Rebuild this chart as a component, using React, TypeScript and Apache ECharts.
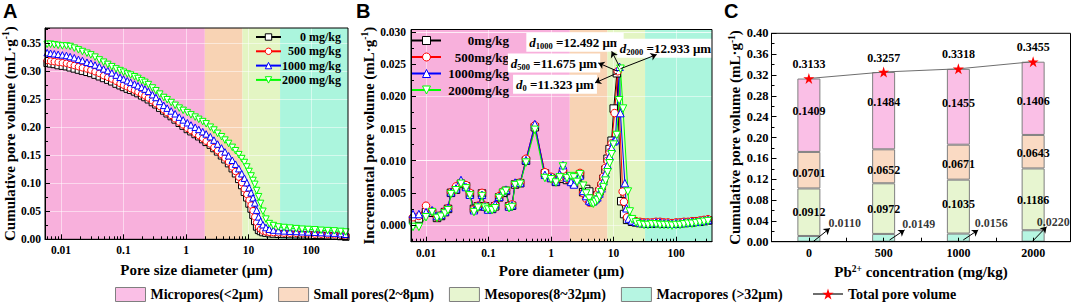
import React, { useEffect, useRef } from 'react';
import * as echarts from 'echarts';

const SERIF = '"Liberation Serif", "Times New Roman", serif';
const SANS = '"Liberation Sans", Arial, sans-serif';

// ---------- shared ----------
const concLabels = ['0', '500', '1000', '2000'];
const aNames = concLabels.map((c) => `${c} mg/kg`);
const bNames = concLabels.map((c) => `${c}mg/kg`);
const lineColors = ['#000000', '#FF0000', '#0000FF', '#00FF00'];
const lineSymbols = ['rect', 'circle', 'triangle', 'triangle'];
const lineSymbolRotate = [0, 0, 0, 180];
const poreClasses = ['Micropores(<2μm)', 'Small pores(2~8μm)', 'Mesopores(8~32μm)', 'Macropores (>32μm)'];
const totalName = 'Total pore volume';
const classBounds = [2, 8, 32]; // μm
const bandColors = ['#F8B0DC', '#F8D3B4', '#E3F5C3', '#ABF5DD'];
const barColors = ['#FABFE6', '#FADAC3', '#E7F5D0', '#B6F5E2'];
const decadeValues = [0.01, 0.1, 1, 10, 100];
const decadeLabels = ['0.01', '0.1', '1', '10', '100'];

// ---------- panel A: cumulative pore volume ----------
const aDiameter = [
  0.006, 0.0068, 0.0078, 0.009, 0.0105, 0.0122, 0.014, 0.0163, 0.019, 0.022,
  0.026, 0.03, 0.035, 0.041, 0.048, 0.056, 0.065, 0.076, 0.088, 0.1,
  0.115, 0.13, 0.15, 0.17, 0.195, 0.22, 0.25, 0.29, 0.33, 0.38,
  0.44, 0.5, 0.58, 0.67, 0.78, 0.9, 1.05, 1.2, 1.4, 1.6,
  1.85, 2.1, 2.45, 2.8, 3.2, 3.7, 4.2, 4.8, 5.5, 6.2,
  7.0, 7.8, 8.6, 9.4, 10.2, 11.0, 11.8, 12.6, 13.5, 14.5,
  15.6, 17, 19, 21.5, 25, 30, 37, 46, 58, 72,
  90, 115, 145, 185, 235, 300, 360,
];
const aVol0 = [
  0.314, 0.313, 0.312, 0.310, 0.309, 0.308, 0.306, 0.304, 0.302, 0.300,
  0.298, 0.296, 0.293, 0.290, 0.287, 0.284, 0.281, 0.277, 0.274, 0.271,
  0.268, 0.266, 0.263, 0.260, 0.256, 0.253, 0.249, 0.244, 0.240, 0.234,
  0.229, 0.224, 0.219, 0.213, 0.207, 0.202, 0.196, 0.192, 0.187, 0.183,
  0.178, 0.173, 0.168, 0.162, 0.156, 0.149, 0.142, 0.135, 0.126, 0.117,
  0.107, 0.096, 0.084, 0.074, 0.063, 0.054, 0.043, 0.032, 0.022, 0.016,
  0.014, 0.012, 0.011, 0.010, 0.0095, 0.009, 0.0088, 0.0085, 0.0082, 0.008,
  0.0077, 0.0073, 0.007, 0.0065, 0.006, 0.005, 0.004,
];
const aVol500 = [
  0.319, 0.318, 0.317, 0.316, 0.315, 0.314, 0.312, 0.310, 0.308, 0.306,
  0.304, 0.302, 0.299, 0.296, 0.292, 0.289, 0.286, 0.282, 0.278, 0.275,
  0.272, 0.269, 0.266, 0.263, 0.259, 0.256, 0.252, 0.247, 0.242, 0.237,
  0.231, 0.226, 0.221, 0.215, 0.209, 0.204, 0.198, 0.194, 0.189, 0.185,
  0.180, 0.175, 0.170, 0.164, 0.158, 0.151, 0.145, 0.138, 0.129, 0.121,
  0.111, 0.101, 0.090, 0.080, 0.070, 0.061, 0.051, 0.040, 0.030, 0.022,
  0.018, 0.015, 0.0135, 0.0125, 0.012, 0.0115, 0.011, 0.0108, 0.0105, 0.010,
  0.0097, 0.0093, 0.009, 0.0085, 0.008, 0.007, 0.006,
];
const aVol1000 = [
  0.333, 0.332, 0.331, 0.330, 0.329, 0.328, 0.326, 0.324, 0.321, 0.319,
  0.316, 0.314, 0.311, 0.308, 0.304, 0.301, 0.297, 0.293, 0.289, 0.286,
  0.283, 0.280, 0.277, 0.274, 0.271, 0.268, 0.264, 0.258, 0.253, 0.246,
  0.239, 0.234, 0.229, 0.224, 0.218, 0.213, 0.208, 0.204, 0.200, 0.196,
  0.192, 0.188, 0.183, 0.177, 0.170, 0.163, 0.156, 0.149, 0.141, 0.134,
  0.126, 0.117, 0.109, 0.101, 0.092, 0.083, 0.074, 0.065, 0.052, 0.040,
  0.032, 0.026, 0.021, 0.018, 0.0165, 0.0155, 0.015, 0.0145, 0.014, 0.0135,
  0.013, 0.0125, 0.012, 0.0115, 0.011, 0.010, 0.009,
];
const aVol2000 = [
  0.348, 0.348, 0.347, 0.346, 0.345, 0.345, 0.344, 0.341, 0.338, 0.335,
  0.332, 0.329, 0.325, 0.320, 0.316, 0.312, 0.308, 0.304, 0.301, 0.298,
  0.295, 0.293, 0.290, 0.287, 0.283, 0.280, 0.276, 0.270, 0.265, 0.259,
  0.253, 0.249, 0.244, 0.239, 0.234, 0.230, 0.226, 0.222, 0.218, 0.214,
  0.210, 0.206, 0.200, 0.195, 0.189, 0.183, 0.177, 0.171, 0.164, 0.158,
  0.151, 0.144, 0.137, 0.129, 0.121, 0.113, 0.105, 0.098, 0.087, 0.076,
  0.064, 0.050, 0.036, 0.028, 0.0245, 0.022, 0.021, 0.020, 0.019, 0.018,
  0.0175, 0.017, 0.016, 0.0155, 0.015, 0.014, 0.013,
];
const aYTicks = [0, 0.05, 0.1, 0.15, 0.2, 0.25, 0.3, 0.35];

// ---------- panel B: incremental pore volume ----------
const bDiameter = [
  0.0062, 0.0077, 0.01, 0.0125, 0.015, 0.0174, 0.0201, 0.0225, 0.0251, 0.0302,
  0.0363, 0.0437, 0.0504, 0.0585, 0.0678, 0.0787, 0.0881, 0.0986, 0.1142, 0.1278,
  0.1479, 0.1712, 0.1905, 0.2133, 0.238, 0.2661, 0.321, 0.3981, 0.5517, 0.7998,
  1.0, 1.199, 1.38, 1.555, 1.8, 2.09, 2.33, 2.61, 2.91, 3.27,
  3.65, 4.09, 4.41, 4.75, 5.13, 5.52, 5.95, 6.43, 6.92, 7.46,
  8.04, 8.67, 9.33,
];
const bInc0 = [
  0.0008, 0.0010, 0.0020, 0.0019, 0.0011, 0.0014, 0.0020, 0.0025, 0.0050, 0.0055,
  0.0064, 0.0060, 0.0048, 0.0025, 0.0029, 0.0049, 0.0029, 0.0025, 0.0025, 0.0029,
  0.0043, 0.0050, 0.0053, 0.0029, 0.0030, 0.0063, 0.0065, 0.0100, 0.0152, 0.0080,
  0.0073, 0.0067, 0.0072, 0.0080, 0.0070, 0.0069, 0.0064, 0.0073, 0.0078, 0.0051,
  0.0056, 0.0052, 0.0041, 0.0038, 0.0041, 0.0046, 0.0052, 0.0060, 0.0072, 0.0086,
  0.0103, 0.0118, 0.0131,
];
const bInc500 = [
  0.0012, 0.0014, 0.0030, 0.0021, 0.0012, 0.0015, 0.0021, 0.0026, 0.0051, 0.0060,
  0.0066, 0.0062, 0.0050, 0.0024, 0.0030, 0.0050, 0.0030, 0.0026, 0.0026, 0.0031,
  0.0045, 0.0052, 0.0054, 0.0030, 0.0032, 0.0064, 0.0066, 0.0103, 0.0155, 0.0082,
  0.0075, 0.0069, 0.0074, 0.0086, 0.0072, 0.0071, 0.0066, 0.0076, 0.0081, 0.0050,
  0.0041, 0.0035, 0.0035, 0.0038, 0.0042, 0.0048, 0.0055, 0.0064, 0.0075, 0.0089,
  0.0100, 0.0113, 0.0127,
];
const bInc1000 = [
  0.0017, 0.0017, 0.0020, 0.0023, 0.0014, 0.0016, 0.0021, 0.0027, 0.0051, 0.0057,
  0.0070, 0.0059, 0.0047, 0.0023, 0.0030, 0.0047, 0.0029, 0.0024, 0.0026, 0.0032,
  0.0044, 0.0053, 0.0055, 0.0029, 0.0031, 0.0066, 0.0066, 0.0101, 0.0157, 0.0078,
  0.0074, 0.0068, 0.0079, 0.0093, 0.0074, 0.0067, 0.0063, 0.0071, 0.0077, 0.0053,
  0.0045, 0.0038, 0.0036, 0.0037, 0.0040, 0.0043, 0.0049, 0.0057, 0.0068, 0.0080,
  0.0093, 0.0107, 0.0120,
];
const bInc2000 = [
  -0.0003, -0.0003, 0.0012, 0.0020, 0.0011, 0.0013, 0.0018, 0.0023, 0.0048, 0.0054,
  0.0064, 0.0057, 0.0046, 0.0020, 0.0027, 0.0045, 0.0027, 0.0024, 0.0023, 0.0026,
  0.0042, 0.0050, 0.0053, 0.0026, 0.0028, 0.0062, 0.0064, 0.0097, 0.0148, 0.0073,
  0.0071, 0.0066, 0.0074, 0.0091, 0.0073, 0.0076, 0.0074, 0.0067, 0.0079, 0.0061,
  0.0049, 0.0041, 0.0034, 0.0033, 0.0036, 0.0039, 0.0044, 0.0051, 0.0059, 0.0069,
  0.0082, 0.0096, 0.0110,
];
// peak region, [diameter μm, volume]
const bPeak0 = [[10.07, 0.0181], [11.323, 0.0236], [13.3, 0.0037], [14.8, 0.0017], [16.5, 0.0008]];
const bPeak500 = [[10.4, 0.0174], [11.675, 0.0239], [14.0, 0.0052], [14.7, 0.0036], [16.5, 0.0012]];
const bPeak1000 = [[10.0, 0.0130], [10.7, 0.0132], [12.492, 0.0246], [12.9, 0.0174], [15.2, 0.0065], [16.1, 0.0026], [17.5, 0.0010]];
const bPeak2000 = [[10.0, 0.0125], [11.3, 0.0140], [12.3, 0.0194], [12.933, 0.0243], [14.2, 0.0181], [17.0, 0.0052], [18.2, 0.0021]];
const bTailDiameter = [19.8, 22.9, 26.5, 30.8, 35.6, 41.3, 47.9, 55.5, 64.3, 74.5, 86.3, 100, 116, 134, 156, 180, 209, 242, 281, 325];
const bTail0 = [0.0005, 0.0004, 0.0003, 0.0003, 0.0002, 0.0002, 0.0003, 0.0003, 0.0002, 0.0002, 0.0002, 0.0002, 0.0003, 0.0003, 0.0004, 0.0004, 0.0005, 0.0005, 0.0006, 0.0007];
const bTail500 = [0.0008, 0.0006, 0.0005, 0.0004, 0.0004, 0.0004, 0.0005, 0.0005, 0.0004, 0.0004, 0.0003, 0.0004, 0.0004, 0.0005, 0.0005, 0.0006, 0.0006, 0.0007, 0.0008, 0.0009];
const bTail1000 = [0.0007, 0.0005, 0.0004, 0.0003, 0.0003, 0.0003, 0.0004, 0.0004, 0.0003, 0.0003, 0.0002, 0.0003, 0.0003, 0.0004, 0.0004, 0.0005, 0.0005, 0.0006, 0.0007, 0.0008];
const bTail2000 = [0.0009, 0.0004, 0.0001, 0.0000, 0.0000, 0.0001, 0.0001, 0.0000, 0.0000, 0.0000, -0.0001, 0.0000, 0.0000, 0.0001, 0.0002, 0.0002, 0.0003, 0.0004, 0.0005, 0.0006];
const peakDiam = [11.323, 11.675, 12.492, 12.933];
const peakVol = [0.0236, 0.0239, 0.0246, 0.0243];
const bYTicks = [0, 0.005, 0.01, 0.015, 0.02, 0.025, 0.03];
const bYMinor = [-0.0025, 0.0025, 0.0075, 0.0125, 0.0175, 0.0225, 0.0275];

// ---------- panel C: stacked pore volumes ----------
const macroVol = [0.0110, 0.0149, 0.0156, 0.0220];
const mesoVol = [0.0912, 0.0972, 0.1035, 0.1186];
const smallVol = [0.0701, 0.0652, 0.0671, 0.0643];
const microVol = [0.1409, 0.1484, 0.1455, 0.1406];
const totalVol = [0.3133, 0.3257, 0.3318, 0.3455];

// ---------- layout (annotations / styles) ----------
const GA = { left: 45, top: 28, width: 303, height: 211.3 };
const GB = { left: 411, top: 29.5, width: 301, height: 212.2 };
const GC = { left: 771.5, top: 33.3, width: 299, height: 208.4 };
const A_X = [-2.256, 2.592];
const B_X = [-2.24, 2.576];
const A_Y = [0, 0.377];
const B_Y = [-0.0026, 0.0304];
const peakLabelAt = [[0.064, 0.0219], [0.048, 0.0252], [0.384, 0.0284], [1.832, 0.0275]];
const peakArrowEnd = [[0.704, 0.0221], [0.757, 0.0252], [0.971, 0.0270], [1.691, 0.0265]];
const macroLabelDx = [0.48, 0.47, 0.44, 0.27];
const macroLabelY = [0.036, 0.034, 0.0365, 0.0384];
const macroArrows = [[0.06, 0.0005, 0.28, 0.0257], [0.08, 0.0033, 0.28, 0.0225], [0.065, 0.0033, 0.265, 0.0225], [-0.01, 0.0005, 0.18, 0.0288]];
const microShift = [-4, -9, -4, 3];
const smallShift = [3, 4, 2, 1];
const mesoShift = [0, 0, -3, 1];

const STAR = 'path://M50,0 L61.2,34.5 L97.6,34.5 L68.2,55.9 L79.4,90.5 L50,69.1 L20.6,90.5 L31.8,55.9 L2.4,34.5 L38.8,34.5 Z';

const lg = (d: number) => Math.log10(d);

const font = (size: number) => ({ fontFamily: SERIF, fontWeight: 'bold' as const, fontSize: size, color: '#000' });

const nameRich = {
  a: { ...font(15), lineHeight: 17 },
  s: { ...font(9.5), lineHeight: 9, verticalAlign: 'top' as const },
};

const minorLogs = (range: number[]) => {
  const out: number[] = [];
  for (let e = -3; e <= 2; e++) {
    for (let k = 2; k <= 9; k++) {
      const v = e + Math.log10(k);
      if (v > range[0] && v < range[1]) out.push(v);
    }
  }
  return out;
};

const decadeLogs = decadeValues.map(lg);

function logXAxes(grid: number, range: number[], name: string, nameGap: number) {
  return [
    {
      gridIndex: grid, type: 'value', min: range[0], max: range[1], position: 'bottom', z: 10,
      axisLine: { show: true, onZero: false, lineStyle: { color: '#000', width: 1 } },
      axisTick: { show: true, inside: true, length: 5, customValues: decadeLogs, lineStyle: { color: '#000' } },
      axisLabel: {
        customValues: decadeLogs, margin: 5, ...font(11.5),
        formatter: (v: number) => decadeLabels[decadeLogs.findIndex((d) => Math.abs(d - v) < 1e-6)] ?? '',
      },
      splitLine: { show: false },
      name, nameLocation: 'middle', nameGap, nameTextStyle: { ...font(15) },
    },
    {
      gridIndex: grid, type: 'value', min: range[0], max: range[1], position: 'bottom', z: 10,
      axisLine: { show: false, onZero: false },
      axisTick: { show: true, inside: true, length: 3, customValues: minorLogs(range), lineStyle: { color: '#000' } },
      axisLabel: { show: false },
      splitLine: { show: false },
    },
  ];
}

function bands(range: number[]) {
  const edges = [range[0], ...classBounds.map(lg), range[1]];
  return {
    silent: true,
    z: 1,
    data: bandColors.map((c, k) => [
      { xAxis: edges[k], itemStyle: { color: c, opacity: 1, borderWidth: 0 } },
      { xAxis: edges[k + 1] },
    ]),
  };
}

function gridLines(yTicks: number[]) {
  return {
    silent: true,
    z: 1.5,
    symbol: ['none', 'none'],
    label: { show: false },
    lineStyle: { color: 'rgba(255,255,255,0.5)', width: 1, type: 'solid' },
    emphasis: { disabled: true },
    data: [...decadeLogs.map((v) => ({ xAxis: v })), ...yTicks.map((v) => ({ yAxis: v }))],
  };
}

function lineSeries(i: number, name: string, data: number[][], xi: number, yi: number, size: number) {
  return {
    type: 'line', name, xAxisIndex: xi, yAxisIndex: yi, data,
    symbol: lineSymbols[i], symbolRotate: lineSymbolRotate[i], symbolSize: size, showAllSymbol: true,
    lineStyle: { color: lineColors[i], width: 1 },
    itemStyle: { color: '#fff', borderColor: lineColors[i], borderWidth: 1 },
    emphasis: { disabled: true },
    z: 2,
  };
}

function buildOption() {
  const aVols = [aVol0, aVol500, aVol1000, aVol2000];
  const bIncs = [bInc0, bInc500, bInc1000, bInc2000];
  const bPeaks = [bPeak0, bPeak500, bPeak1000, bPeak2000];
  const bTails = [bTail0, bTail500, bTail1000, bTail2000];

  const aSeries = aVols.map((vols, i) => {
    const s: any = lineSeries(i, aNames[i], aDiameter.map((d, j) => [lg(d), vols[j]]), 0, 0, 6.5);
    if (i === 0) { s.markArea = bands(A_X); s.markLine = gridLines(aYTicks); }
    return s;
  });

  const bSeries = bIncs.map((inc, i) => {
    const data = [
      ...bDiameter.map((d, j) => [lg(d), inc[j]]),
      ...bPeaks[i].map(([d, v]) => [lg(d), v]),
      ...bTailDiameter.map((d, j) => [lg(d), bTails[i][j]]),
    ];
    const s: any = lineSeries(i, bNames[i], data, 2, 1, 7.5);
    if (i === 0) { s.markArea = bands(B_X); s.markLine = gridLines(bYTicks); }
    if (i === 3) {
      s.markPoint = {
        silent: true,
        symbol: 'rect', symbolSize: 1, itemStyle: { color: 'rgba(0,0,0,0)' },
        label: {
          show: true, position: 'inside', backgroundColor: '#fff', padding: [2, 3, 1, 3],
          formatter: (p: any) => `{i|d}{s|${concLabels[p.dataIndex]}}{b| =${peakDiam[p.dataIndex].toFixed(3)} μm}`,
          rich: {
            i: { ...font(13), fontStyle: 'italic', lineHeight: 16 },
            s: { ...font(8.5), lineHeight: 9, verticalAlign: 'bottom' },
            b: { ...font(13), lineHeight: 16 },
          },
        },
        data: peakLabelAt.map((c, k) => ({ name: concLabels[k], coord: c, value: peakDiam[k] })),
        z: 6,
      };
      s.markLine = {
        silent: true, symbol: ['none', 'arrow'], symbolSize: 6,
        label: { show: false }, emphasis: { disabled: true },
        lineStyle: { color: '#000', width: 1, type: 'solid' },
        data: peakDiam.map((d, k) => [{ coord: [lg(d), peakVol[k]] }, { coord: peakArrowEnd[k] }]),
        z: 7,
      };
    }
    return s;
  });

  const barBase = {
    type: 'bar', stack: 'pv', xAxisIndex: 4, yAxisIndex: 3, barWidth: 23,
    emphasis: { disabled: true },
  };
  const segLabel = { show: true, position: 'inside', ...font(12), formatter: (p: any) => Number(p.value).toFixed(4) };
  const withShift = (vals: number[], shift: number[]) => vals.map((v, i) => ({ value: v, label: { offset: [0, shift[i]] } }));
  const barStyle = (c: string) => ({ color: c, borderColor: '#7f7f7f', borderWidth: 1 });

  const cSeries: any[] = [
    { ...barBase, name: poreClasses[3], data: macroVol, itemStyle: barStyle(barColors[3]) },
    { ...barBase, name: poreClasses[2], data: withShift(mesoVol, mesoShift), label: segLabel, itemStyle: barStyle(barColors[2]) },
    { ...barBase, name: poreClasses[1], data: withShift(smallVol, smallShift), label: segLabel, itemStyle: barStyle(barColors[1]) },
    { ...barBase, name: poreClasses[0], data: withShift(microVol, microShift), label: segLabel, itemStyle: barStyle(barColors[0]) },
    {
      type: 'line', name: totalName, xAxisIndex: 4, yAxisIndex: 3, data: totalVol,
      symbol: STAR, symbolSize: 11, z: 5,
      lineStyle: { color: '#6e6e6e', width: 1 },
      itemStyle: { color: '#FF0000', borderColor: '#FF0000', borderWidth: 0 },
      label: { show: true, position: 'top', distance: 3, ...font(12), formatter: (p: any) => Number(p.value).toFixed(4) },
      emphasis: { disabled: true },
    },
    {
      type: 'scatter', name: 'macroLabels', xAxisIndex: 5, yAxisIndex: 3,
      data: macroVol.map((v, i) => [i + macroLabelDx[i], macroLabelY[i], v]),
      symbolSize: 0, silent: true, z: 6,
      label: { show: true, position: 'inside', ...font(12), formatter: (p: any) => Number(p.value[2]).toFixed(4) },
      markLine: {
        silent: true, symbol: ['none', 'arrow'], symbolSize: 6,
        label: { show: false }, emphasis: { disabled: true },
        lineStyle: { color: '#000', width: 1, type: 'solid' },
        data: macroArrows.map((a, i) => [{ coord: [i + a[0], a[1]] }, { coord: [i + a[2], a[3]] }]),
        z: 7,
      },
    },
  ];

  const rightRich = (w: number, size: number) => ({
    formatter: (n: string) => `{n|${n}}`,
    textStyle: { ...font(size), rich: { n: { ...font(size), width: w, align: 'right' } } },
  });

  return {
    animation: false,
    textStyle: { fontFamily: SERIF },
    grid: [
      { ...GA, show: true, borderColor: '#000', borderWidth: 1, z: 10, containLabel: false },
      { ...GB, show: true, borderColor: '#000', borderWidth: 1, z: 10, containLabel: false },
      { ...GC, show: true, borderColor: '#000', borderWidth: 1, z: 10, containLabel: false },
    ],
    xAxis: [
      ...logXAxes(0, A_X, 'Pore size diameter (μm)', 23),
      ...logXAxes(1, B_X, 'Pore diameter (μm)', 21),
      {
        gridIndex: 2, type: 'category', data: concLabels, position: 'bottom', z: 10,
        axisLine: { show: true, onZero: false, lineStyle: { color: '#000' } },
        axisTick: { show: false },
        axisLabel: { ...font(12), margin: 5 },
        name: '{a|Pb}{s|2+}{a| concentration (mg/kg)}', nameLocation: 'middle', nameGap: 19,
        nameTextStyle: { ...font(15), rich: nameRich },
      },
      {
        gridIndex: 2, type: 'value', min: -0.5, max: 3.5, position: 'bottom', z: 10,
        axisLine: { show: false, onZero: false },
        axisTick: { show: true, inside: true, length: 4, customValues: [0, 0.5, 1, 1.5, 2, 2.5, 3], lineStyle: { color: '#000' } },
        axisLabel: { show: false },
        splitLine: { show: false },
      },
    ],
    yAxis: [
      {
        gridIndex: 0, type: 'value', min: A_Y[0], max: A_Y[1], interval: 0.05, z: 10,
        axisLine: { show: true, onZero: false, lineStyle: { color: '#000' } },
        axisTick: { show: true, inside: true, length: 5, lineStyle: { color: '#000' } },
        minorTick: { show: true, splitNumber: 2, length: 3, lineStyle: { color: '#000' } },
        axisLabel: { customValues: aYTicks, margin: 4, ...font(11.5), formatter: (v: number) => v.toFixed(2) },
        splitLine: { show: false }, minorSplitLine: { show: false },
        name: '{a|Cumulative pore volume (mL·g}{s|-1}{a|)}', nameLocation: 'middle', nameGap: 21,
        nameTextStyle: { ...font(15), rich: nameRich },
      },
      {
        gridIndex: 1, type: 'value', min: B_Y[0], max: B_Y[1], z: 10,
        axisLine: { show: true, onZero: false, lineStyle: { color: '#000' } },
        axisTick: { show: true, inside: true, length: 5, customValues: bYTicks, lineStyle: { color: '#000' } },
        axisLabel: { customValues: bYTicks, margin: 5, ...font(11.5), formatter: (v: number) => v.toFixed(3) },
        splitLine: { show: false },
        name: '{a|Incremental pore volume (mL·g}{s|-1}{a|)}', nameLocation: 'middle', nameGap: 33,
        nameTextStyle: { ...font(15), rich: nameRich },
      },
      {
        gridIndex: 1, type: 'value', min: B_Y[0], max: B_Y[1], z: 10, position: 'left',
        axisLine: { show: false, onZero: false },
        axisTick: { show: true, inside: true, length: 3, customValues: bYMinor, lineStyle: { color: '#000' } },
        axisLabel: { show: false },
        splitLine: { show: false },
      },
      {
        gridIndex: 2, type: 'value', min: 0, max: 0.4, interval: 0.04, z: 10,
        axisLine: { show: true, onZero: false, lineStyle: { color: '#000' } },
        axisTick: { show: true, inside: true, length: 5, lineStyle: { color: '#000' } },
        minorTick: { show: true, splitNumber: 2, length: 3, lineStyle: { color: '#000' } },
        axisLabel: { margin: 3, ...font(12.5), formatter: (v: number) => v.toFixed(2) },
        splitLine: { show: false }, minorSplitLine: { show: false },
        name: '{a|Cumulative pore volume (mL·g}{s|-1}{a|)}', nameLocation: 'middle', nameGap: 24,
        nameTextStyle: { ...font(15), rich: nameRich },
      },
    ],
    legend: [
      {
        data: aNames, orient: 'vertical', left: 255, top: 31, padding: 0,
        itemWidth: 25, itemHeight: 8, itemGap: 2.3, selectedMode: false,
        itemStyle: { borderWidth: 1 },
        ...rightRich(55, 12),
      },
      {
        data: bNames, orient: 'vertical', left: 411, top: 34, padding: 0,
        itemWidth: 29, itemHeight: 10, itemGap: 3.5, selectedMode: false,
        itemStyle: { borderWidth: 1 },
        ...rightRich(63, 13),
      },
      {
        data: poreClasses.map((n) => ({ name: n, icon: 'rect' })),
        orient: 'horizontal', left: 115, top: 287, padding: 0,
        itemWidth: 30, itemHeight: 14, itemGap: 15, selectedMode: false,
        itemStyle: { borderWidth: 1 },
        textStyle: { ...font(14) },
      },
      {
        data: [totalName],
        orient: 'horizontal', left: 812, top: 287, padding: 0,
        itemWidth: 30, itemHeight: 14, selectedMode: false,
        itemStyle: { borderWidth: 0 },
        textStyle: { ...font(14) },
      },
    ],
    graphic: [
      { type: 'text', left: 3, top: 1, style: { text: 'A', font: `bold 20px ${SANS}`, fill: '#000' } },
      { type: 'text', left: 356, top: 1, style: { text: 'B', font: `bold 20px ${SANS}`, fill: '#000' } },
      { type: 'text', left: 724, top: 1, style: { text: 'C', font: `bold 20px ${SANS}`, fill: '#000' } },
    ],
    series: [...aSeries, ...bSeries, ...cSeries],
  };
}

export default function App() {
  const ref = useRef<HTMLDivElement>(null);
  useEffect(() => {
    document.body.style.margin = '0';
    const chart = echarts.init(ref.current as HTMLDivElement, undefined, { renderer: 'svg' });
    chart.setOption(buildOption() as any);
    return () => chart.dispose();
  }, []);
  return <div ref={ref} style={{ width: 1072, height: 304 }} />;
}
